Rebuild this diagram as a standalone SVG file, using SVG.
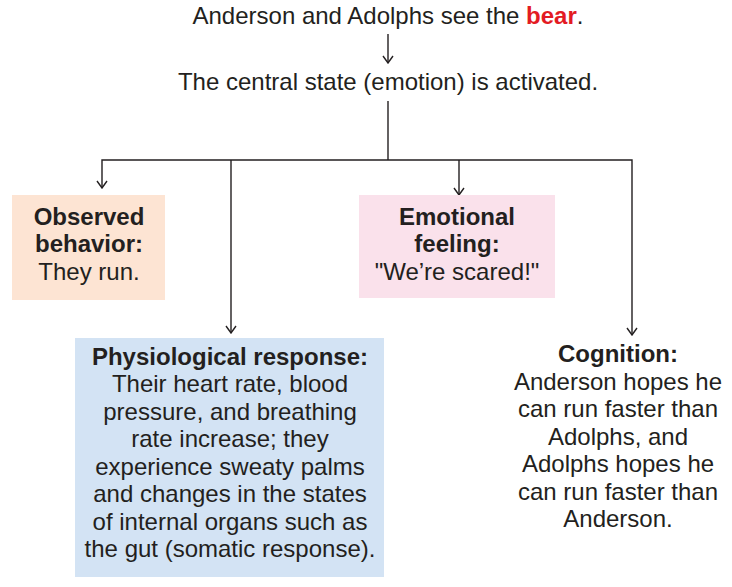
<svg xmlns="http://www.w3.org/2000/svg" width="732" height="587" viewBox="0 0 732 587">
<defs>
<style>
text{font-family:"Liberation Sans",Arial,sans-serif;font-size:24px;fill:#231f20;text-anchor:middle}
.b{font-weight:bold}
.red{fill:#e31b23;font-weight:bold}
.ln{stroke:#231f20;stroke-width:1.4;fill:none}
</style>
<marker id="ah" viewBox="0 0 10 12" refX="9" refY="6" markerWidth="10" markerHeight="12" markerUnits="userSpaceOnUse" orient="auto-start-reverse">
<path d="M2 1 L9 6 L2 11" stroke="#231f20" stroke-width="1.4" fill="none"/>
</marker>
</defs>
<rect width="732" height="587" fill="#fff"/>
<g id="connectors">
<line class="ln" x1="388" y1="34" x2="388" y2="63" marker-end="url(#ah)"/>
<line class="ln" x1="388" y1="101" x2="388" y2="160"/>
<polyline class="ln" points="102,188 102,160 632,160 632,335" marker-start="url(#ah)" marker-end="url(#ah)"/>
<line class="ln" x1="231" y1="160" x2="231" y2="333" marker-end="url(#ah)"/>
<line class="ln" x1="459" y1="160" x2="459" y2="195" marker-end="url(#ah)"/>
</g>
<g id="n-see">
<text x="388" y="24">Anderson and Adolphs see the <tspan class="red">bear</tspan>.</text>
</g>
<g id="n-central">
<text x="388" y="90">The central state (emotion) is activated.</text>
</g>
<g id="n-observed">
<rect x="12" y="195" width="153" height="105" fill="#fde4d3"/>
<text x="89" y="225" class="b">Observed</text>
<text x="89" y="252" class="b">behavior:</text>
<text x="89" y="280">They run.</text>
</g>
<g id="n-emotional">
<rect x="359" y="195" width="196" height="103" fill="#fae1eb"/>
<text x="457" y="225" class="b">Emotional</text>
<text x="457" y="252" class="b">feeling:</text>
<text x="457" y="280">"We’re scared!"</text>
</g>
<g id="n-physio">
<rect x="75" y="338" width="309" height="239" fill="#d3e3f4"/>
<text x="230" y="365" class="b">Physiological response:</text>
<text x="230" y="392">Their heart rate, blood</text>
<text x="230" y="420">pressure, and breathing</text>
<text x="230" y="447">rate increase; they</text>
<text x="230" y="475">experience sweaty palms</text>
<text x="230" y="502">and changes in the states</text>
<text x="230" y="530">of internal organs such as</text>
<text x="230" y="557">the gut (somatic response).</text>
</g>
<g id="n-cognition">
<text x="618" y="362" class="b">Cognition:</text>
<text x="618" y="390">Anderson hopes he</text>
<text x="618" y="417">can run faster than</text>
<text x="618" y="445">Adolphs, and</text>
<text x="618" y="472">Adolphs hopes he</text>
<text x="618" y="500">can run faster than</text>
<text x="618" y="527">Anderson.</text>
</g>
</svg>
